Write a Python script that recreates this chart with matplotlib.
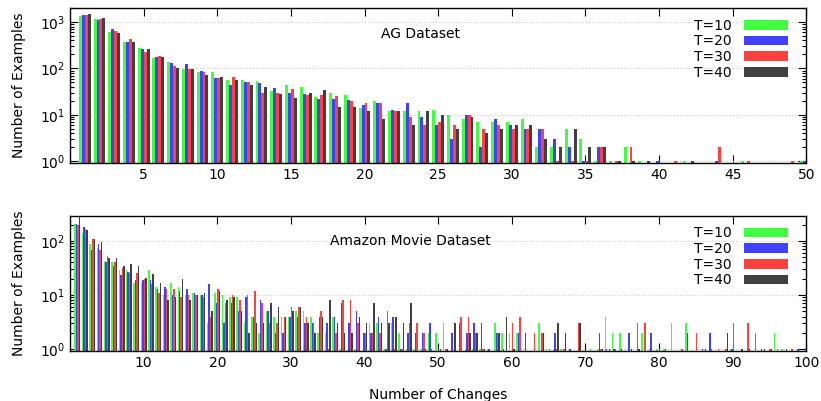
import numpy as np
import matplotlib
matplotlib.use("Agg")
import matplotlib.pyplot as plt
from matplotlib.patches import Patch
from matplotlib.ticker import LogLocator

# Series labels and colours (gnuplot-like palette)
series = ["T=10", "T=20", "T=30", "T=40"]
colors = ["#40FF40", "#4040FF", "#FF4040", "#404040"]

# AG dataset: counts for number of changes 1..50
ag_changes = np.arange(1, 51)
ag_t10 = [1350, 1180, 620, 380, 270, 166, 136, 97, 84, 84, 56, 56, 54, 33, 44, 40, 24, 30, 27, 14,
          20, 12, 12, 12, 13, 10, 8, 7, 7, 7, 8, 2, 2, 5, 3, 1, 1, 2, 1, 0,
          0, 1, 0, 0, 0, 1, 0, 0, 0, 1]
ag_t20 = [1440, 1120, 690, 380, 257, 174, 129, 124, 88, 62, 44, 51, 49, 38, 30, 28, 22, 22, 21, 16,
          18, 13, 18, 9, 6, 3, 10, 2, 8, 6, 5, 5, 3, 2, 1, 2, 0, 0, 0, 1,
          0, 0, 0, 1, 0, 0, 0, 0, 0, 1]
ag_t30 = [1440, 1180, 650, 420, 223, 183, 112, 97, 84, 62, 65, 51, 30, 30, 36, 27, 27, 26, 20, 18,
          18, 12, 9, 6, 7, 6, 10, 5, 6, 5, 5, 5, 1, 1, 1, 2, 1, 2, 0, 0,
          1, 0, 0, 2, 0, 1, 0, 0, 1, 0]
ag_t40 = [1510, 1240, 590, 380, 257, 174, 102, 97, 72, 65, 56, 44, 40, 28, 23, 30, 35, 15, 15, 12,
          8, 12, 6, 12, 10, 5, 9, 4, 5, 6, 6, 3, 2, 5, 2, 2, 1, 1, 1, 0,
          0, 1, 0, 0, 0, 0, 0, 0, 0, 0]

# Amazon Movie dataset: counts for number of changes 1..99
am_changes = np.arange(1, 100)
am_t10 = [210, 140, 88, 74, 43, 40, 29, 29, 17, 17, 29, 14, 10, 17, 14, 10, 11, 10, 3, 11,
          10, 9, 9, 3, 4, 2, 5, 4, 4, 4, 5, 5, 4, 2, 2, 4, 1, 1, 1, 0,
          3, 3, 1, 3, 2, 1, 1, 1, 2, 2, 3, 0, 0, 1, 1, 1, 1, 3, 2, 2,
          2, 0, 0, 3, 1, 1, 1, 0, 0, 0, 1, 1, 4, 2, 2, 0, 0, 2, 1, 1,
          1, 3, 0, 3, 0, 0, 0, 0, 0, 1, 0, 0, 0, 0, 0, 2, 1, 0, 0]
am_t20 = [205, 178, 68, 88, 40, 35, 23, 27, 19, 19, 19, 13, 14, 10, 12, 13, 11, 10, 16, 7,
          3, 7, 5, 9, 4, 8, 5, 2, 2, 4, 4, 3, 3, 4, 3, 4, 7, 3, 5, 2,
          2, 4, 1, 4, 1, 2, 2, 2, 3, 0, 0, 2, 3, 2, 3, 3, 1, 2, 1, 0,
          2, 2, 0, 0, 0, 2, 0, 1, 0, 0, 0, 2, 1, 1, 1, 2, 0, 0, 2, 0,
          1, 0, 0, 2, 0, 1, 2, 0, 0, 1, 0, 0, 0, 1, 0, 0, 0, 0, 1]
am_t30 = [200, 170, 109, 68, 53, 41, 32, 26, 26, 20, 16, 11, 13, 13, 9, 10, 10, 9, 4, 13,
          7, 10, 8, 10, 12, 7, 3, 3, 4, 6, 6, 4, 3, 5, 1, 2, 8, 8, 3, 2,
          2, 2, 5, 1, 1, 3, 3, 2, 1, 0, 1, 0, 4, 4, 2, 1, 0, 2, 0, 3,
          4, 0, 2, 2, 1, 1, 1, 0, 3, 0, 0, 1, 0, 1, 0, 0, 3, 3, 0, 0,
          0, 0, 1, 0, 2, 0, 1, 1, 1, 3, 0, 3, 2, 0, 1, 1, 0, 1, 0]
am_t40 = [300, 160, 109, 95, 49, 49, 35, 38, 35, 21, 24, 17, 8, 9, 20, 8, 10, 11, 5, 12,
          8, 9, 5, 2, 3, 3, 7, 6, 4, 5, 6, 3, 2, 4, 8, 3, 2, 2, 4, 3,
          7, 3, 3, 4, 3, 7, 0, 1, 0, 1, 1, 3, 0, 2, 2, 1, 0, 2, 4, 1,
          0, 0, 0, 2, 0, 3, 2, 0, 3, 0, 0, 1, 1, 0, 0, 1, 1, 0, 0, 0,
          0, 0, 0, 0, 0, 1, 0, 0, 2, 0, 1, 1, 0, 1, 1, 0, 1, 0, 0]

plt.rcParams["font.family"] = "DejaVu Sans"
plt.rcParams["font.size"] = 10

fig = plt.figure(figsize=(8.21, 4.01), dpi=100)
ax_top = fig.add_axes([0.0853, 0.5935, 0.8967, 0.3865])
ax_bot = fig.add_axes([0.0853, 0.1247, 0.8967, 0.3366])


def draw_panel(ax, x, data, xmax, xticks, ymax, title, title_xy):
    width = 0.2
    offsets = [-0.3, -0.1, 0.1, 0.3]
    for vals, off, col, lab in zip(data, offsets, colors, series):
        vals = np.asarray(vals, dtype=float)
        keep = vals > 0
        ax.bar(x[keep] + off, vals[keep], width=width, color=col,
               linewidth=0, label=lab, zorder=2)
    ax.set_yscale("log")
    ax.set_xlim(0, xmax)
    ax.set_ylim(0.92, ymax)
    ax.set_xticks(xticks)
    ax.yaxis.set_major_locator(LogLocator(base=10, numticks=10))
    ax.yaxis.set_minor_locator(LogLocator(base=10, subs=np.arange(2, 10), numticks=10))
    ax.tick_params(which="both", direction="in", top=True, right=True)
    ax.tick_params(which="major", length=6, width=0.8)
    ax.tick_params(which="minor", length=3, width=0.8)
    ax.tick_params(axis="x", which="minor", bottom=False, top=False)
    ax.grid(True, axis="y", which="major", color="#cccccc",
            linestyle=":", linewidth=0.8, zorder=0)
    for sp in ax.spines.values():
        sp.set_linewidth(1.0)
    ax.set_ylabel("Number of Examples")
    ax.yaxis.set_label_coords(-0.06, 0.5)
    ax.text(title_xy[0], title_xy[1], title, transform=ax.transAxes,
            ha="center", va="center")
    handles = [Patch(facecolor=c, edgecolor="none") for c in colors]
    ax.legend(handles, series, loc="upper right", bbox_to_anchor=(0.987, 0.985),
              frameon=False, markerfirst=False, handlelength=3.2,
              handleheight=0.7, labelspacing=0.12, handletextpad=0.9,
              borderaxespad=0.2, fontsize=10)


draw_panel(ax_top, ag_changes, [ag_t10, ag_t20, ag_t30, ag_t40],
           50, np.arange(5, 51, 5), 2000, "AG Dataset", (0.476, 0.83))
draw_panel(ax_bot, am_changes, [am_t10, am_t20, am_t30, am_t40],
           100, np.arange(10, 101, 10), 290, "Amazon Movie Dataset", (0.462, 0.815))
ax_bot.set_xlabel("Number of Changes", labelpad=13)

fig.savefig("out.png", dpi=100)
